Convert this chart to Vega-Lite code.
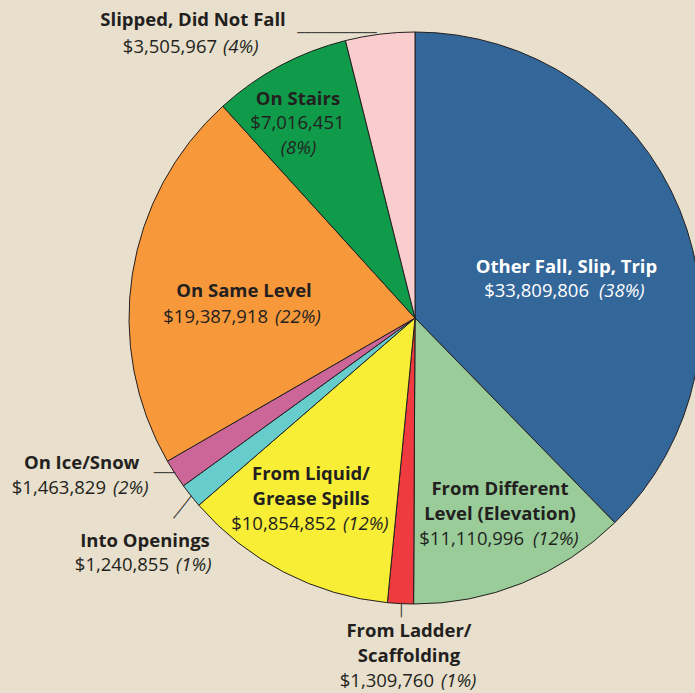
{
  "$schema": "https://vega.github.io/schema/vega-lite/v6.json",
  "autosize": {"type": "none"},
  "width": 560,
  "height": 636,
  "padding": {"left": 135, "top": 0, "right": 0, "bottom": 57},
  "background": "#e8dfcc",
  "config": {
    "view": {"stroke": null},
    "text": {"font": "Open Sans", "fontSize": 18.5, "color": "#231f20", "lineBreak": "\n", "lineHeight": 25, "baseline": "alphabetic"}
  },
  "data": {
    "values": [
      {"rank": 1, "cat": "Other Fall, Slip, Trip", "title": "Other Fall, Slip, Trip", "value": 33809806, "pct": "(38%)"},
      {"rank": 2, "cat": "From Different Level (Elevation)", "title": "From Different\nLevel (Elevation)", "value": 11110996, "pct": "(12%)"},
      {"rank": 3, "cat": "From Ladder/Scaffolding", "title": "From Ladder/\nScaffolding", "value": 1309760, "pct": "(1%)"},
      {"rank": 4, "cat": "From Liquid/Grease Spills", "title": "From Liquid/\nGrease Spills", "value": 10854852, "pct": "(12%)"},
      {"rank": 5, "cat": "Into Openings", "title": "Into Openings", "value": 1240855, "pct": "(1%)"},
      {"rank": 6, "cat": "On Ice/Snow", "title": "On Ice/Snow", "value": 1463829, "pct": "(2%)"},
      {"rank": 7, "cat": "On Same Level", "title": "On Same Level", "value": 19387918, "pct": "(22%)"},
      {"rank": 8, "cat": "On Stairs", "title": "On Stairs", "value": 7016451, "pct": "(8%)"},
      {"rank": 9, "cat": "Slipped, Did Not Fall", "title": "Slipped, Did Not Fall", "value": 3505967, "pct": "(4%)"}
    ]
  },
  "encoding": {
    "theta": {"field": "value", "type": "quantitative", "stack": true},
    "order": {"field": "rank", "type": "quantitative", "sort": "ascending"},
    "detail": {"field": "cat", "type": "nominal"}
  },
  "layer": [
    {
      "mark": {"type": "arc", "outerRadius": 286, "stroke": "#231f20", "strokeWidth": 1},
      "encoding": {
        "color": {
          "field": "cat", "type": "nominal", "legend": null,
          "scale": {
            "domain": ["Other Fall, Slip, Trip", "From Different Level (Elevation)", "From Ladder/Scaffolding", "From Liquid/Grease Spills", "Into Openings", "On Ice/Snow", "On Same Level", "On Stairs", "Slipped, Did Not Fall"],
            "range": ["#336699", "#99cc99", "#ef3b3f", "#f8ee35", "#66cccc", "#cc6699", "#f7993b", "#0f9b4a", "#f9cccd"]
          }
        }
      }
    },

    {"mark": {"type": "text", "radius": 160, "dx": 3.3, "dy": 15.3, "align": "center", "fontWeight": "bold", "color": "white"},
     "encoding": {"text": {"condition": {"test": "datum.rank == 1", "field": "title", "type": "nominal"}, "value": ""}}},
    {"mark": {"type": "text", "radius": 160, "dx": 25.8, "dy": 39.3, "align": "right", "color": "white"},
     "encoding": {"text": {"condition": {"test": "datum.rank == 1", "field": "value", "type": "quantitative", "format": "$,.0f"}, "value": ""}}},
    {"mark": {"type": "text", "radius": 160, "dx": 35.8, "dy": 39.3, "align": "left", "fontStyle": "italic", "color": "white"},
     "encoding": {"text": {"condition": {"test": "datum.rank == 1", "field": "pct", "type": "nominal"}, "value": ""}}},

    {"mark": {"type": "text", "radius": 190, "dx": 13.8, "dy": 0.9, "align": "center", "fontWeight": "bold"},
     "encoding": {"text": {"condition": {"test": "datum.rank == 2", "field": "title", "type": "nominal"}, "value": ""}}},
    {"mark": {"type": "text", "radius": 190, "dx": 37.8, "dy": 50.9, "align": "right"},
     "encoding": {"text": {"condition": {"test": "datum.rank == 2", "field": "value", "type": "quantitative", "format": "$,.0f"}, "value": ""}}},
    {"mark": {"type": "text", "radius": 190, "dx": 46.8, "dy": 50.9, "align": "left", "fontStyle": "italic"},
     "encoding": {"text": {"condition": {"test": "datum.rank == 2", "field": "pct", "type": "nominal"}, "value": ""}}},

    {"mark": {"type": "text", "radius": 300, "dx": 9.2, "dy": 19.4, "align": "center", "fontWeight": "bold"},
     "encoding": {"text": {"condition": {"test": "datum.rank == 3", "field": "title", "type": "nominal"}, "value": ""}}},
    {"mark": {"type": "text", "radius": 300, "dx": 34.2, "dy": 69.4, "align": "right"},
     "encoding": {"text": {"condition": {"test": "datum.rank == 3", "field": "value", "type": "quantitative", "format": "$,.0f"}, "value": ""}}},
    {"mark": {"type": "text", "radius": 300, "dx": 41.2, "dy": 69.4, "align": "left", "fontStyle": "italic"},
     "encoding": {"text": {"condition": {"test": "datum.rank == 3", "field": "pct", "type": "nominal"}, "value": ""}}},
    {"mark": {"type": "text", "radius": 292.3, "angle": 90, "dx": 0, "dy": -1, "align": "center", "baseline": "middle", "font": "DejaVu Sans Mono", "fontSize": 12, "color": "#333333"},
     "encoding": {"text": {"condition": {"test": "datum.rank == 3", "value": "──"}, "value": ""}}},

    {"mark": {"type": "text", "radius": 190, "dx": -16.8, "dy": -7.3, "align": "center", "fontWeight": "bold"},
     "encoding": {"text": {"condition": {"test": "datum.rank == 4", "field": "title", "type": "nominal"}, "value": ""}}},
    {"mark": {"type": "text", "radius": 190, "dx": 8.2, "dy": 43.2, "align": "right"},
     "encoding": {"text": {"condition": {"test": "datum.rank == 4", "field": "value", "type": "quantitative", "format": "$,.0f"}, "value": ""}}},
    {"mark": {"type": "text", "radius": 190, "dx": 15.2, "dy": 43.2, "align": "left", "fontStyle": "italic"},
     "encoding": {"text": {"condition": {"test": "datum.rank == 4", "field": "pct", "type": "nominal"}, "value": ""}}},

    {"mark": {"type": "text", "radius": 330, "dx": -11.4, "dy": 23.9, "align": "center", "fontWeight": "bold"},
     "encoding": {"text": {"condition": {"test": "datum.rank == 5", "field": "title", "type": "nominal"}, "value": ""}}},
    {"mark": {"type": "text", "radius": 330, "dx": 12.6, "dy": 47.9, "align": "right"},
     "encoding": {"text": {"condition": {"test": "datum.rank == 5", "field": "value", "type": "quantitative", "format": "$,.0f"}, "value": ""}}},
    {"mark": {"type": "text", "radius": 330, "dx": 19.6, "dy": 47.9, "align": "left", "fontStyle": "italic"},
     "encoding": {"text": {"condition": {"test": "datum.rank == 5", "field": "pct", "type": "nominal"}, "value": ""}}},
    {"mark": {"type": "text", "radius": 299.6, "angle": 128.4, "dx": 0.8, "dy": -3.5, "align": "center", "baseline": "middle", "font": "DejaVu Sans Mono", "fontSize": 12, "color": "#333333"},
     "encoding": {"text": {"condition": {"test": "datum.rank == 5", "value": "────"}, "value": ""}}},

    {"mark": {"type": "text", "radius": 330, "dx": -56.5, "dy": -28.7, "align": "center", "fontWeight": "bold"},
     "encoding": {"text": {"condition": {"test": "datum.rank == 6", "field": "title", "type": "nominal"}, "value": ""}}},
    {"mark": {"type": "text", "radius": 330, "dx": -32.2, "dy": -3.7, "align": "right"},
     "encoding": {"text": {"condition": {"test": "datum.rank == 6", "field": "value", "type": "quantitative", "format": "$,.0f"}, "value": ""}}},
    {"mark": {"type": "text", "radius": 330, "dx": -25.2, "dy": -3.7, "align": "left", "fontStyle": "italic"},
     "encoding": {"text": {"condition": {"test": "datum.rank == 6", "field": "pct", "type": "nominal"}, "value": ""}}},
    {"mark": {"type": "text", "radius": 294.7, "angle": 0, "dx": -3.3, "dy": -5.1, "align": "center", "baseline": "middle", "font": "DejaVu Sans Mono", "fontSize": 12, "color": "#333333"},
     "encoding": {"text": {"condition": {"test": "datum.rank == 6", "value": "───"}, "value": ""}}},

    {"mark": {"type": "text", "radius": 170, "dx": -3, "dy": 4.9, "align": "center", "fontWeight": "bold"},
     "encoding": {"text": {"condition": {"test": "datum.rank == 7", "field": "title", "type": "nominal"}, "value": ""}}},
    {"mark": {"type": "text", "radius": 170, "dx": 21, "dy": 31.2, "align": "right"},
     "encoding": {"text": {"condition": {"test": "datum.rank == 7", "field": "value", "type": "quantitative", "format": "$,.0f"}, "value": ""}}},
    {"mark": {"type": "text", "radius": 170, "dx": 28, "dy": 31.2, "align": "left", "fontStyle": "italic"},
     "encoding": {"text": {"condition": {"test": "datum.rank == 7", "field": "pct", "type": "nominal"}, "value": ""}}},

    {"mark": {"type": "text", "radius": 200, "dx": -22.7, "dy": -36.6, "align": "center", "fontWeight": "bold"},
     "encoding": {"text": {"condition": {"test": "datum.rank == 8", "field": "title", "type": "nominal"}, "value": ""}}},
    {"mark": {"type": "text", "radius": 200, "dx": -23.2, "dy": -12.6, "align": "center"},
     "encoding": {"text": {"condition": {"test": "datum.rank == 8", "field": "value", "type": "quantitative", "format": "$,.0f"}, "value": ""}}},
    {"mark": {"type": "text", "radius": 200, "dx": -22.2, "dy": 12.4, "align": "center", "fontStyle": "italic"},
     "encoding": {"text": {"condition": {"test": "datum.rank == 8", "field": "pct", "type": "nominal"}, "value": ""}}},

    {"mark": {"type": "text", "radius": 300, "dx": -185.2, "dy": 5.8, "align": "center", "fontWeight": "bold"},
     "encoding": {"text": {"condition": {"test": "datum.rank == 9", "field": "title", "type": "nominal"}, "value": ""}}},
    {"mark": {"type": "text", "radius": 300, "dx": -161.2, "dy": 32.8, "align": "right"},
     "encoding": {"text": {"condition": {"test": "datum.rank == 9", "field": "value", "type": "quantitative", "format": "$,.0f"}, "value": ""}}},
    {"mark": {"type": "text", "radius": 300, "dx": -155.2, "dy": 32.8, "align": "left", "fontStyle": "italic"},
     "encoding": {"text": {"condition": {"test": "datum.rank == 9", "field": "pct", "type": "nominal"}, "value": ""}}},
    {"mark": {"type": "text", "radius": 292.1, "angle": 0, "dx": -42.2, "dy": 5.2, "align": "center", "baseline": "middle", "font": "DejaVu Sans Mono", "fontSize": 12, "color": "#333333"},
     "encoding": {"text": {"condition": {"test": "datum.rank == 9", "value": "───────────"}, "value": ""}}}
  ]
}
